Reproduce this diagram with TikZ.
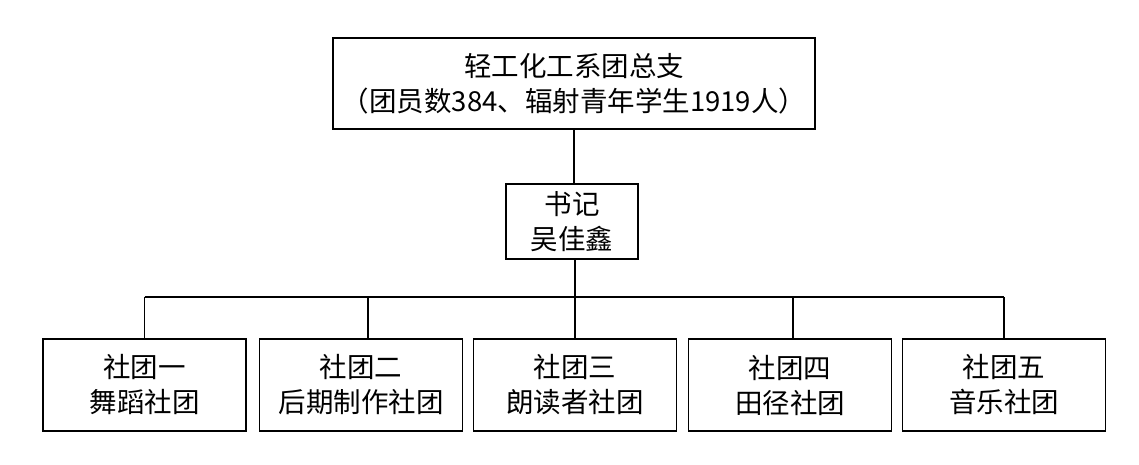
\documentclass[tikz,border=0pt]{standalone}
\usepackage{fontspec}
\setmainfont{Noto Sans CJK SC}
\usetikzlibrary{positioning}

\tikzset{
	unit/.style={draw, line width=1.6pt, align=center, inner sep=0pt, fill=white,
		font=\fontsize{27.5}{35}\selectfont},
	club/.style={unit, minimum width=203, minimum height=92},
	link/.style={line width=1.4pt},
}

\begin{document}
\begin{tikzpicture}[x=1pt, y=-1pt]
	%%%%% START %%%%%
	
	\useasboundingbox (0, 0) rectangle (1139, 464);
	
	\node[unit, minimum width=482, minimum height=91] (zongzhi) at (574, 83.5) {轻工化工系团总支\\（团员数384、辐射青年学生1919人）};
	
	\node[unit, minimum width=132, minimum height=75] (shuji) at (572, 221.5) {书记\\吴佳鑫};
	
	\node[club] (she1) at (144.5, 385) {社团一\\舞蹈社团};
	\node[club] (she2) at (361, 385) {社团二\\后期制作社团};
	\node[club] (she3) at (575, 385) {社团三\\朗读者社团};
	\node[club] (she4) at (790, 385) {社团四\\田径社团};
	\node[club] (she5) at (1004, 385) {社团五\\音乐社团};
	
	\coordinate (bus) at (575, 297);
	
	\draw[link] (zongzhi.south) -- (zongzhi.south |- shuji.north);
	\draw[link] (bus |- shuji.south) -- (bus);
	\draw[link] (she1.north |- bus) -- (she5.north |- bus);
	
	\draw[link] (she1.north |- bus) -- (she1.north);
	\draw[link] ([xshift=7]she2.north |- bus) -- ([xshift=7]she2.north);
	\draw[link] (she3.north |- bus) -- (she3.north);
	\draw[link] ([xshift=3]she4.north |- bus) -- ([xshift=3]she4.north);
	\draw[link] (she5.north |- bus) -- (she5.north);
	
	%%%%% END %%%%%
\end{tikzpicture}
\end{document}
